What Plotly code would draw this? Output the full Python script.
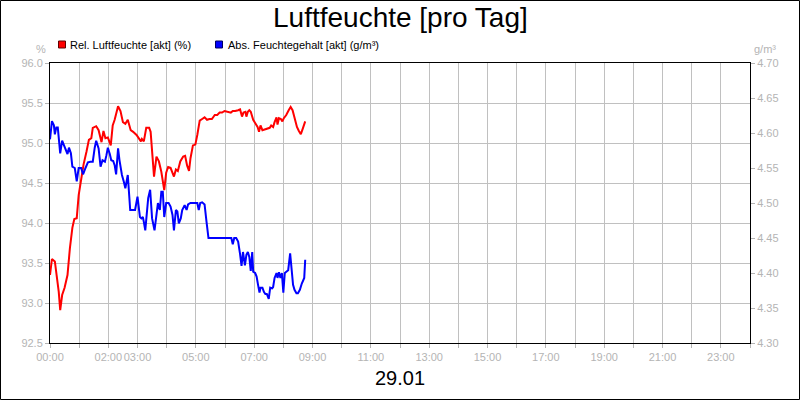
import plotly.graph_objects as go

# ---- data ----
rel_times = ["00:00","00:04","00:10","00:14","00:18","00:21","00:25","00:30","00:36","00:41",
             "00:46","00:50","00:55","00:59","01:04","01:09","01:15","01:20","01:25","01:28",
             "01:35","01:40","01:46","01:50","01:54","01:59","02:05","02:09","02:13","02:20",
             "02:25","02:30","02:35","02:40","02:46","02:51","02:58","03:01","03:07","03:09",
             "03:13","03:18","03:24","03:27","03:30","03:34","03:39","03:44","03:49","03:55",
             "03:59","04:03","04:08","04:11","04:15","04:19","04:23","04:28","04:34","04:38",
             "04:42","04:46","04:49","04:54","04:59","05:03","05:08","05:13","05:18","05:23",
             "05:28","05:33","05:39","05:44","05:49","05:54","05:59","06:05","06:12","06:16",
             "06:21","06:27","06:31","06:35","06:38","06:42","06:44","06:47","06:50","06:53",
             "06:58","07:02","07:07","07:10","07:13","07:17","07:22","07:27","07:32","07:35",
             "07:39","07:42","07:46","07:48","07:51","07:55","07:58","08:01","08:06","08:11",
             "08:15","08:19","08:23","08:28","08:32","08:36","08:40","08:45"]
rel_values = [93.35,93.55,93.52,93.35,93.14,92.91,93.10,93.19,93.35,93.69,
              93.94,94.05,94.06,94.35,94.56,94.73,94.89,95.04,95.06,95.19,
              95.21,95.16,95.01,95.15,95.06,95.07,94.97,95.22,95.29,95.46,
              95.40,95.26,95.24,95.29,95.16,95.14,95.10,95.07,95.02,95.05,
              95.02,95.19,95.19,95.14,94.89,94.58,94.83,94.77,94.64,94.41,
              94.63,94.70,94.69,94.64,94.58,94.67,94.65,94.77,94.83,94.84,
              94.72,94.65,94.81,94.97,94.98,95.10,95.28,95.30,95.32,95.29,
              95.30,95.30,95.35,95.35,95.38,95.38,95.40,95.39,95.38,95.40,
              95.40,95.41,95.42,95.33,95.38,95.39,95.33,95.39,95.41,95.39,
              95.29,95.25,95.20,95.14,95.22,95.16,95.17,95.18,95.19,95.22,
              95.20,95.26,95.32,95.23,95.31,95.30,95.27,95.31,95.35,95.41,
              95.45,95.41,95.30,95.20,95.15,95.11,95.18,95.27]

abs_times = ["00:00","00:04","00:08","00:10","00:13","00:16","00:21","00:25","00:29","00:34",
             "00:36","00:39","00:43","00:46","00:51","00:55","00:59","01:04","01:08","01:13",
             "01:18","01:23","01:28","01:32","01:35","01:40","01:44","01:48","01:53","01:56",
             "01:59","02:03","02:06","02:10","02:13","02:16","02:20","02:23","02:28","02:32",
             "02:35","02:40","02:45","02:51","02:55","03:00","03:05","03:08","03:11","03:13",
             "03:16","03:22","03:26","03:30","03:35","03:39","03:42","03:46","03:49","03:52",
             "03:55","03:59","04:04","04:08","04:12","04:15","04:19","04:22","04:25","04:29",
             "04:32","04:37","04:41","04:44","04:49","04:54","04:59","05:03","05:06","05:09",
             "05:13","05:18","05:22","05:26","05:32","05:45","06:00","06:09","06:13","06:16",
             "06:19","06:23","06:27","06:31","06:34","06:37","06:41","06:44","06:47","06:50",
             "06:53","06:56","06:58","07:02","07:05","07:08","07:11","07:13","07:17","07:20",
             "07:23","07:26","07:30","07:33","07:37","07:39","07:42","07:46","07:48","07:51",
             "07:54","07:57","08:00","08:03","08:06","08:10","08:14","08:16","08:20","08:23",
             "08:27","08:30","08:34","08:38","08:43","08:45"]
abs_values = [4.591,4.617,4.611,4.598,4.608,4.608,4.571,4.589,4.582,4.573,
              4.570,4.579,4.571,4.552,4.550,4.531,4.550,4.550,4.541,4.550,
              4.558,4.559,4.559,4.579,4.589,4.578,4.552,4.561,4.559,4.568,
              4.579,4.570,4.561,4.560,4.554,4.541,4.578,4.561,4.540,4.530,
              4.521,4.540,4.490,4.490,4.490,4.509,4.480,4.478,4.480,4.473,
              4.461,4.507,4.519,4.478,4.461,4.483,4.500,4.490,4.516,4.516,
              4.480,4.500,4.500,4.495,4.483,4.461,4.490,4.488,4.471,4.478,
              4.490,4.497,4.490,4.498,4.500,4.500,4.500,4.500,4.490,4.500,
              4.501,4.498,4.473,4.450,4.450,4.450,4.450,4.450,4.450,4.441,
              4.450,4.450,4.445,4.427,4.410,4.430,4.411,4.426,4.430,4.423,
              4.403,4.430,4.402,4.400,4.395,4.383,4.372,4.379,4.379,4.373,
              4.370,4.370,4.363,4.379,4.378,4.380,4.393,4.400,4.393,4.401,
              4.393,4.400,4.372,4.400,4.402,4.404,4.428,4.414,4.383,4.376,
              4.371,4.371,4.376,4.385,4.393,4.419]

tick_hours = [0, 2, 3, 5, 7, 9, 11, 13, 15, 17, 19, 21, 23]
tick_labels = ["00:00", "02:00", "03:00", "05:00", "07:00", "09:00", "11:00",
               "13:00", "15:00", "17:00", "19:00", "21:00", "23:00"]

title_text = "Luftfeuchte [pro Tag]"
date_text = "29.01"
rel_name = "Rel. Luftfeuchte [akt] (%)"
abs_name = "Abs. Feuchtegehalt [akt] (g/m³)"


def to_hours(ts):
    return [int(t[:2]) + int(t[3:]) / 60 for t in ts]


FONT = "Liberation Sans, Arial, sans-serif"
GREY = "#b4b4b4"
GRID = "#c0c0c0"

fig = go.Figure()
fig.add_trace(go.Scatter(x=to_hours(rel_times), y=rel_values, mode="lines",
                         line=dict(color="#ff0000", width=2), name=rel_name,
                         yaxis="y"))
fig.add_trace(go.Scatter(x=to_hours(abs_times), y=abs_values, mode="lines",
                         line=dict(color="#0000ff", width=2), name=abs_name,
                         yaxis="y2"))

L, R, T, B = 50, 50, 63, 57
W, H = 800, 400
PW, PH = W - L - R, H - T - B


def px(x):
    return (x - L) / PW


def py(y):
    return (H - B - y) / PH


fig.update_layout(
    width=W, height=H,
    margin=dict(l=L, r=R, t=T, b=B, autoexpand=False),
    paper_bgcolor="white", plot_bgcolor="white",
    showlegend=False,
    font=dict(family=FONT, size=11, color=GREY),
    xaxis=dict(range=[0, 24], tickvals=tick_hours, ticktext=tick_labels,
               tickangle=0, automargin=False,
               showgrid=True, gridcolor=GRID, gridwidth=1,
               ticks="outside", ticklen=4, tickcolor=GREY,
               showline=True, linecolor="black", linewidth=1, mirror=True,
               zeroline=False, tickfont=dict(size=11, color=GREY),
               minor=dict(dtick=1, tick0=0, showgrid=True, gridcolor=GRID,
                          ticks="outside", ticklen=4, tickcolor=GREY)),
    yaxis=dict(range=[92.5, 96.0], dtick=0.5, tick0=92.5, tickformat=".1f",
               automargin=False,
               showgrid=True, gridcolor=GRID, gridwidth=1,
               ticks="outside", ticklen=4, tickcolor=GREY,
               showline=True, linecolor="black", linewidth=1,
               zeroline=False, tickfont=dict(size=11, color=GREY)),
    yaxis2=dict(range=[4.30, 4.70], dtick=0.05, tick0=4.30, tickformat=".2f",
                automargin=False,
                overlaying="y", side="right", showgrid=False,
                ticks="outside", ticklen=4, tickcolor=GREY,
                showline=True, linecolor="black", linewidth=1,
                zeroline=False, tickfont=dict(size=11, color=GREY)),
)

shapes = [
    # outer frame
    dict(type="rect", xref="paper", yref="paper",
         x0=px(0.5), x1=px(799.5), y0=py(399.5), y1=py(0.5),
         line=dict(color="black", width=1), fillcolor="rgba(0,0,0,0)", layer="above"),
    # legend squares
    dict(type="rect", xref="paper", yref="paper",
         x0=px(58.5), x1=px(65.5), y0=py(48), y1=py(41),
         line=dict(color="#600000", width=1), fillcolor="#ff0000"),
    dict(type="rect", xref="paper", yref="paper",
         x0=px(215.5), x1=px(222.5), y0=py(48), y1=py(41),
         line=dict(color="#000060", width=1), fillcolor="#0000ff"),
]

annotations = [
    dict(text=title_text, xref="paper", yref="paper", x=0.5, y=py(18),
         xanchor="center", yanchor="middle", showarrow=False,
         font=dict(family=FONT, size=28, color="black")),
    dict(text=date_text, xref="paper", yref="paper", x=0.5, y=py(378),
         xanchor="center", yanchor="middle", showarrow=False,
         font=dict(family=FONT, size=20, color="black")),
    dict(text=rel_name, xref="paper", yref="paper", x=px(68), y=py(45),
         xanchor="left", yanchor="middle", showarrow=False,
         font=dict(family=FONT, size=11, color="black")),
    dict(text=abs_name, xref="paper", yref="paper", x=px(226), y=py(45),
         xanchor="left", yanchor="middle", showarrow=False,
         font=dict(family=FONT, size=11, color="black")),
    dict(text="%", xref="paper", yref="paper", x=px(48), y=py(49),
         xanchor="right", yanchor="middle", showarrow=False,
         font=dict(family=FONT, size=11, color=GREY)),
    dict(text="g/m³", xref="paper", yref="paper", x=px(752), y=py(49),
         xanchor="left", yanchor="middle", showarrow=False,
         font=dict(family=FONT, size=11, color=GREY)),
]

fig.update_layout(shapes=shapes, annotations=annotations)
fig.write_html("out.html",
               config={"displayModeBar": False},
               post_script="document.body.style.margin='0';"
                           "document.body.style.overflow='hidden';")
